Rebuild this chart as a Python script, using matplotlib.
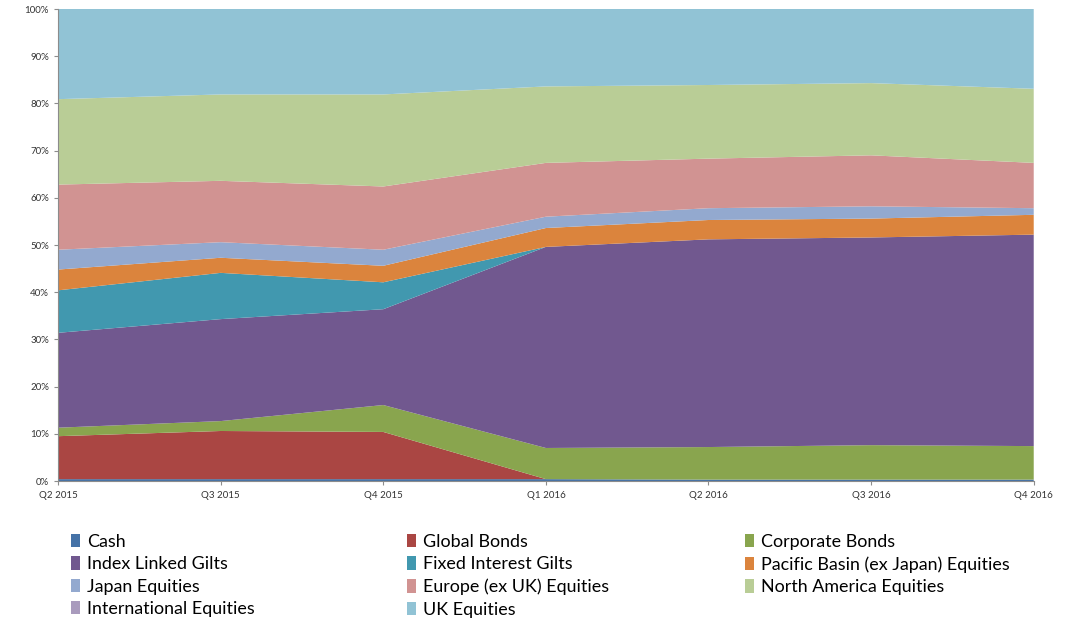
import numpy as np
import matplotlib
matplotlib.use("Agg")
import matplotlib.pyplot as plt
from matplotlib.patches import Patch

plt.rcParams['font.family'] = ['Lato', 'DejaVu Sans']

quarters = ["Q2 2015", "Q3 2015", "Q4 2015", "Q1 2016", "Q2 2016", "Q3 2016", "Q4 2016"]

# share of the fund in each asset class (%)
cash           = [0.4, 0.4, 0.4, 0.4, 0.3, 0.3, 0.3]
global_bonds   = [9.1, 10.2, 10.0, 0.0, 0.0, 0.0, 0.0]
corporate      = [1.8, 2.1, 5.7, 6.6, 6.9, 7.3, 7.1]
index_linked   = [20.1, 21.6, 20.3, 42.6, 44.0, 44.0, 44.8]
fixed_interest = [9.0, 9.8, 5.7, 0.0, 0.0, 0.0, 0.0]
pacific        = [4.4, 3.2, 3.5, 4.0, 4.1, 4.0, 4.2]
japan          = [4.2, 3.3, 3.4, 2.4, 2.5, 2.6, 1.4]
europe         = [13.8, 13.0, 13.4, 11.4, 10.5, 10.8, 9.6]
north_america  = [18.1, 18.3, 19.5, 16.2, 15.6, 15.3, 15.7]
international  = [0.0, 0.0, 0.0, 0.0, 0.0, 0.0, 0.0]
uk_equities    = [19.1, 18.1, 18.1, 16.4, 16.1, 15.7, 16.9]

names = ["Cash", "Global Bonds", "Corporate Bonds", "Index Linked Gilts",
         "Fixed Interest Gilts", "Pacific Basin (ex Japan) Equities",
         "Japan Equities", "Europe (ex UK) Equities", "North America Equities",
         "International Equities", "UK Equities"]
series = [cash, global_bonds, corporate, index_linked, fixed_interest, pacific,
          japan, europe, north_america, international, uk_equities]
colors = ["#4572A7", "#AA4643", "#89A54E", "#71588F", "#4198AF", "#DB843D",
          "#93A9CF", "#D19392", "#B9CD96", "#A99BBD", "#91C3D5"]

fig = plt.figure(figsize=(10.69, 6.21), dpi=100)
ax = fig.add_axes([0.0543, 0.2254, 0.9127, 0.7601])

x = np.arange(len(quarters))
ax.stackplot(x, *series, colors=colors, linewidth=0)

ax.set_xlim(0, len(quarters) - 1)
ax.set_ylim(0, 100)
ax.set_xticks(x)
ax.set_xticklabels(quarters)
ax.set_yticks(np.arange(0, 101, 10))
ax.set_yticklabels([f"{v}%" for v in range(0, 101, 10)])
ax.tick_params(axis="both", labelsize=7, colors="#8c8c8c", labelcolor="#333333",
               length=3, width=0.8)
ax.tick_params(axis="x", pad=4)
for side in ["top", "right"]:
    ax.spines[side].set_visible(False)
for side in ["left", "bottom"]:
    ax.spines[side].set_color("#8c8c8c")
    ax.spines[side].set_linewidth(0.8)

handles = [Patch(facecolor=c, edgecolor="none") for c in colors]
# the legend reads row by row, three entries per row; one legend per column
col_x = [0.0664, 0.3807, 0.697]
for c, x0 in enumerate(col_x):
    idx = list(range(c, len(names), 3))
    fig.legend([handles[i] for i in idx], [names[i] for i in idx],
               loc="upper left", bbox_to_anchor=(x0, 0.1405),
               frameon=False, fontsize=12.9, handlelength=0.5, handleheight=0.75,
               handletextpad=0.4, labelspacing=0.36,
               borderpad=0, borderaxespad=0)

fig.savefig("out.png", dpi=100)
